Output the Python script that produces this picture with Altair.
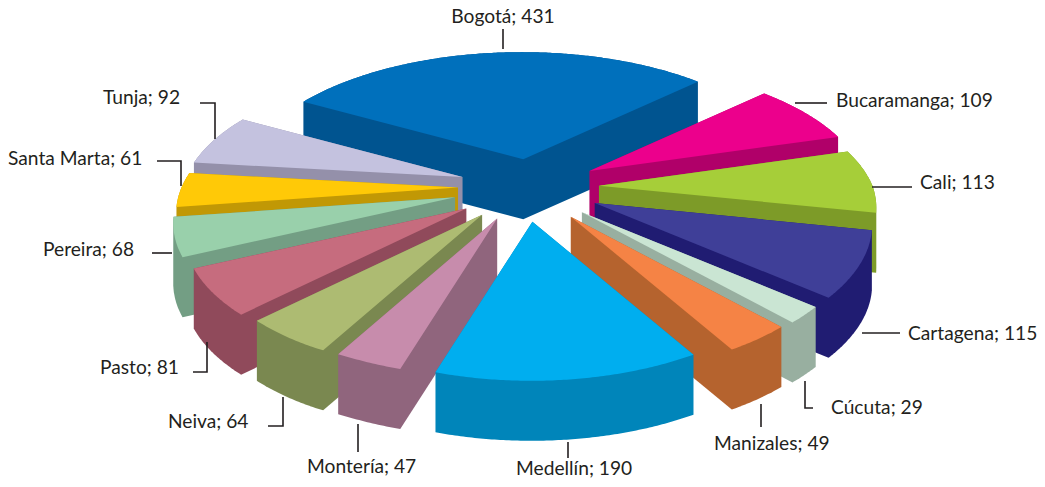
import math
import altair as alt

# --- data ---
cities = ["Bogotá", "Bucaramanga", "Cali", "Cartagena", "Cúcuta", "Manizales", "Medellín",
          "Montería", "Neiva", "Pasto", "Pereira", "Santa Marta", "Tunja"]
values = [431, 109, 113, 115, 29, 49, 190, 47, 64, 81, 68, 61, 92]

# --- styles ---
top_colors = ["#0070BC", "#EC008C", "#A6CE39", "#3F3F98", "#CAE5D3", "#F58345", "#00AEEF",
              "#C78CAC", "#ADBB72", "#C66C7E", "#99D0AB", "#FFC907", "#C4C2DF"]
wall_colors = ["#005490", "#B00069", "#7D9B28", "#201C72", "#98AFA0", "#B5632E", "#0085BA",
               "#90657D", "#7A8850", "#904A5B", "#739E84", "#C19805", "#9490AA"]
# painter's order: back slice first, then both flanks, front slice last
draw_order = [0, 12, 11, 10, 9, 8, 7, 1, 2, 3, 4, 5, 6]

# --- layout of the tilted pie (screen pixels) ---
W, H = 1045, 487
MARGIN = 8
START = -60.5     # bearing of the first slice's leading edge
RX, RY, PERSP = 275.0, 128.0, 0.195
RIM_DX = -1.5
CX, CY = 527.0, 189.0
EX, EY = 72.0, 32.0
DEPTH = 60.0
# small per-slice correction of the explosion offset
nudge = [(5, 2), (0, -2), (0, -2), (3, 0), (3, 1), (1, 2), (-3, 1),
         (-2, 0), (-2, 0), (-2, 1), (-3, -1), (3, -2), (4, -2)]

# label: text anchor x, y, align; leader polyline in screen pixels
label_layout = {
    "Bogotá": (503, 17, "center", [(503, 29), (503, 49)]),
    "Bucaramanga": (836, 101, "left", [(795, 103), (827, 103)]),
    "Cali": (920, 183, "left", [(872, 187), (912, 187)]),
    "Cartagena": (908, 334, "left", [(862, 333), (900, 333)]),
    "Cúcuta": (831, 408, "left", [(805, 381), (805, 408), (813, 408)]),
    "Manizales": (714, 444, "left", [(761, 404), (761, 427)]),
    "Medellín": (516, 469, "left", [(568, 442), (568, 458)]),
    "Montería": (307, 467, "left", [(358, 424), (358, 452)]),
    "Neiva": (168, 422, "left", [(283, 397), (283, 426), (268, 426)]),
    "Pasto": (100, 368, "left", [(207, 342), (207, 372), (193, 372)]),
    "Pereira": (43, 250, "left", [(152, 253), (172, 253)]),
    "Santa Marta": (8, 159, "left", [(157, 161), (181, 161), (181, 186)]),
    "Tunja": (103, 98, "left", [(200, 103), (215, 103), (215, 139)]),
}


def project(theta_deg):
    """Rim point relative to a slice's apex, for a bearing on the tilted disc."""
    t = math.radians(theta_deg)
    x, y = math.sin(t), math.cos(t)
    w = 1 + PERSP * y
    if x > 0:
        squeeze = 1 - 0.03 * max(0.0, -y)
    else:
        squeeze = 1 - 0.04 * max(0.0, (-y - 0.85) / 0.15)
    return RX * x / w * squeeze + RIM_DX, -RY * y / w


def hull(points):
    pts = sorted(set(points))

    def half(seq):
        out = []
        for p in seq:
            while len(out) > 1 and (out[-1][0] - out[-2][0]) * (p[1] - out[-2][1]) - (out[-1][1] - out[-2][1]) * (p[0] - out[-2][0]) <= 0:
                out.pop()
            out.append(p)
        return out[:-1]

    return half(pts) + half(pts[::-1])


def polygon(points, fill):
    ring = [[round(x, 2), round(y, 2)] for x, y in points]
    ring.append(ring[0])
    return {"type": "Feature", "geometry": {"type": "Polygon", "coordinates": [ring]},
            "properties": {"fill": fill}}


total = sum(values)
slices = []
cum = START
for i, v in enumerate(values):
    sweep = 360.0 * v / total
    slices.append((cum, cum + sweep))
    cum += sweep

features = []
for i in draw_order:
    a, b = slices[i]
    mid = math.radians((a + b) / 2)
    ax = CX + EX * math.sin(mid) + nudge[i][0]
    ay = CY - EY * math.cos(mid) + nudge[i][1]
    n = max(2, int((b - a) * 2))
    rim = [project(a + (b - a) * k / n) for k in range(n + 1)]
    top = [(ax, ay)] + [(ax + x, ay + y) for x, y in rim]
    wall = hull([(round(x, 3), round(y, 3)) for x, y in top] +
                [(round(x, 3), round(y + DEPTH, 3)) for x, y in top])
    features.append(polygon(wall, wall_colors[i]))
    features.append(polygon(top, top_colors[i]))

leaders = [{"type": "Feature",
            "geometry": {"type": "LineString", "coordinates": [list(p) for p in label_layout[c][3]]},
            "properties": {"name": c}} for c in cities]

labels = [{"text": f"{c}; {v}", "x": label_layout[c][0] - MARGIN, "y": label_layout[c][1] - MARGIN,
           "align": label_layout[c][2]} for c, v in zip(cities, values)]

proj = alt.Projection(type="identity", scale=1, translate=[-MARGIN, -MARGIN])

faces = alt.Chart(alt.Data(values=features)).mark_geoshape(strokeWidth=0).encode(
    fill=alt.Fill("properties.fill:N", scale=None)
).project(**proj.to_dict())

lines = alt.Chart(alt.Data(values=leaders)).mark_geoshape(
    filled=False, stroke="#231F20", strokeWidth=1.6
).project(**proj.to_dict())

left = [d for d in labels if d["align"] == "left"]
center = [d for d in labels if d["align"] == "center"]


def text_layer(rows, align):
    return alt.Chart(alt.Data(values=rows)).mark_text(
        font="Lato", fontSize=19.2, color="#231F20", align=align, baseline="middle"
    ).encode(
        x=alt.X("x:Q", scale=None),
        y=alt.Y("y:Q", scale=None),
        text="text:N",
    )


chart = alt.layer(faces, lines, text_layer(left, "left"), text_layer(center, "center")).properties(
    width=W - 2 * MARGIN, height=H - 2 * MARGIN, padding=0,
    autosize=alt.AutoSizeParams(type="none"),
).configure_view(stroke=None)

chart.save("out.html", embed_options={"renderer": "svg", "actions": False})
